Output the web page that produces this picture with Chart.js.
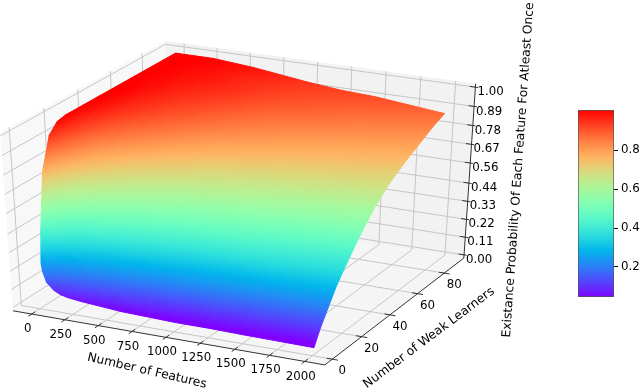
<!DOCTYPE html>
<html>
<head>
<meta charset="utf-8">
<script src="https://cdn.jsdelivr.net/npm/chart.js@4"></script>
<style>
    body { margin: 0; background: #fff; }
    canvas { position: absolute; }
</style>
</head>
<body>
<canvas id="surfaceChart" width="640" height="389" style="left:0;top:0"></canvas>
<canvas id="colorbarChart" width="80" height="210" style="left:560px;top:100px"></canvas>
<script>
// values
const featureCounts = [16, 25, 50, 100, 150, 200, 300, 450, 600, 800, 1000, 1250, 1500, 2000];
const learnerCounts = [1, 2, 5, 10, 15, 20, 30, 40, 50, 60, 70, 80, 88];
// one row per feature count, one column per learner count
const probRows = [
    [0.25, 0.44, 0.76, 0.94, 0.99, 1.00, 1.00, 1.00, 1.00, 1.00, 1.00, 1.00, 1.00],
    [0.20, 0.36, 0.67, 0.89, 0.96, 0.99, 1.00, 1.00, 1.00, 1.00, 1.00, 1.00, 1.00],
    [0.14, 0.26, 0.53, 0.78, 0.90, 0.95, 0.99, 1.00, 1.00, 1.00, 1.00, 1.00, 1.00],
    [0.10, 0.19, 0.41, 0.65, 0.79, 0.88, 0.96, 0.99, 1.00, 1.00, 1.00, 1.00, 1.00],
    [0.08, 0.16, 0.35, 0.57, 0.72, 0.82, 0.92, 0.97, 0.99, 0.99, 1.00, 1.00, 1.00],
    [0.07, 0.14, 0.31, 0.52, 0.67, 0.77, 0.89, 0.95, 0.97, 0.99, 0.99, 1.00, 1.00],
    [0.06, 0.11, 0.26, 0.45, 0.59, 0.70, 0.83, 0.91, 0.95, 0.97, 0.98, 0.99, 1.00],
    [0.05, 0.09, 0.21, 0.38, 0.52, 0.62, 0.77, 0.86, 0.91, 0.94, 0.97, 0.98, 0.99],
    [0.04, 0.08, 0.19, 0.34, 0.46, 0.57, 0.71, 0.81, 0.88, 0.92, 0.95, 0.96, 0.98],
    [0.035, 0.07, 0.16, 0.30, 0.42, 0.51, 0.66, 0.76, 0.83, 0.88, 0.92, 0.94, 0.96],
    [0.03, 0.06, 0.15, 0.27, 0.38, 0.47, 0.62, 0.72, 0.80, 0.85, 0.89, 0.92, 0.94],
    [0.03, 0.06, 0.13, 0.25, 0.35, 0.44, 0.58, 0.68, 0.76, 0.82, 0.87, 0.90, 0.92],
    [0.026, 0.05, 0.12, 0.23, 0.33, 0.41, 0.54, 0.65, 0.73, 0.79, 0.84, 0.88, 0.91],
    [0.022, 0.045, 0.11, 0.20, 0.29, 0.36, 0.49, 0.60, 0.68, 0.74, 0.79, 0.84, 0.87]
];
const featureTicks = [0, 250, 500, 750, 1000, 1250, 1500, 1750, 2000];
const learnerTicks = [0, 20, 40, 60, 80];
const probTicks = ['0.00', '0.11', '0.22', '0.33', '0.44', '0.56', '0.67', '0.78', '0.89', '1.00'];
const colorbarTicks = [0.2, 0.4, 0.6, 0.8];

const fontName = '"DejaVu Sans"';
const fMin = -142, fMax = 2142, lMin = -5, lMax = 95, zMin = -0.02, zMax = 1.02;
const vMin = 0.04, vMax = 1;

// camera, same idea as mplot3d (elev, azim, dist) then fit to the figure
const elev = 32 * Math.PI / 180, azim = -64 * Math.PI / 180, dist = 10;
const right = [-Math.sin(azim), Math.cos(azim), 0];
const up = [-Math.sin(elev) * Math.cos(azim), -Math.sin(elev) * Math.sin(azim), Math.cos(elev)];
const view = [Math.cos(elev) * Math.cos(azim), Math.cos(elev) * Math.sin(azim), Math.sin(elev)];
const dot = (a, b) => a[0] * b[0] + a[1] * b[1] + a[2] * b[2];

function toBox(f, l, z) {
    return [(f - fMin) / (fMax - fMin) - 0.5, (l - lMin) / (lMax - lMin) - 0.5, (z - zMin) / (zMax - zMin) - 0.5];
}
function project(f, l, z) {
    const p = toBox(f, l, z);
    const k = dist / (dist - dot(p, view));
    return { x: 242.7 + 346 * k * dot(p, right), y: 198 - 208 * k * dot(p, up) };
}
function depth(f, l, z) {
    return dot(toBox(f, l, z), view);
}

// matplotlib "rainbow"
function rainbow(v) {
    const t = Math.min(1, Math.max(0, (v - vMin) / (vMax - vMin)));
    const r = Math.min(1, Math.abs(2 * t - 0.5)), g = Math.sin(Math.PI * t), b = Math.cos(Math.PI * t / 2);
    return 'rgb(' + Math.round(r * 255) + ',' + Math.round(g * 255) + ',' + Math.round(b * 255) + ')';
}

const ctx = document.getElementById('surfaceChart').getContext('2d');

// colour of a cell runs along the steepest direction of z on screen
function cellPaint(pts, zs) {
    const lo = Math.min(...zs), hi = Math.max(...zs);
    const ax = pts[2].x - pts[0].x, ay = pts[2].y - pts[0].y, az = zs[2] - zs[0];
    const bx = pts[3].x - pts[1].x, by = pts[3].y - pts[1].y, bz = zs[3] - zs[1];
    const det = ax * by - ay * bx;
    if (hi - lo < 0.001 || Math.abs(det) < 0.01) return rainbow((lo + hi) / 2);
    const gx = (az * by - bz * ay) / det, gy = (bz * ax - az * bx) / det;
    const len = gx * gx + gy * gy;
    const cx = (pts[0].x + pts[1].x + pts[2].x + pts[3].x) / 4, cy = (pts[0].y + pts[1].y + pts[2].y + pts[3].y) / 4;
    const cz = (zs[0] + zs[1] + zs[2] + zs[3]) / 4;
    const grad = ctx.createLinearGradient(
        cx + gx * (lo - cz) / len, cy + gy * (lo - cz) / len,
        cx + gx * (hi - cz) / len, cy + gy * (hi - cz) / len);
    for (let i = 0; i <= 6; i++) grad.addColorStop(i / 6, rainbow(lo + (hi - lo) * i / 6));
    return grad;
}

function pane(corners, color) {
    const pts = corners.map(c => project(c[0], c[1], c[2]));
    pts.push(pts[0]);
    return { data: pts, showLine: true, fill: 'shape', backgroundColor: color, borderColor: color, borderWidth: 0, pointRadius: 0 };
}
function line(corners, color, width) {
    return { data: corners.map(c => project(c[0], c[1], c[2])), showLine: true, fill: false, borderColor: color, borderWidth: width, pointRadius: 0 };
}

const drawList = [];
drawList.push(pane([[fMin, lMin, zMin], [fMin, lMax, zMin], [fMin, lMax, zMax], [fMin, lMin, zMax]], '#f8f8f8'));
drawList.push(pane([[fMin, lMax, zMin], [fMax, lMax, zMin], [fMax, lMax, zMax], [fMin, lMax, zMax]], '#f2f2f2'));
drawList.push(pane([[fMin, lMin, zMin], [fMax, lMin, zMin], [fMax, lMax, zMin], [fMin, lMax, zMin]], '#f5f5f5'));

const gridColor = '#c6c6c6', axisColor = '#333333';
featureTicks.forEach(f => {
    drawList.push(line([[f, lMin, zMin], [f, lMax, zMin], [f, lMax, zMax]], gridColor, 1));
    drawList.push(line([[f, lMin + 2, zMin], [f, lMin - 2, zMin]], axisColor, 1));
});
learnerTicks.forEach(l => {
    drawList.push(line([[fMax, l, zMin], [fMin, l, zMin], [fMin, l, zMax]], gridColor, 1));
    drawList.push(line([[fMax - 40, l, zMin], [fMax + 40, l, zMin]], axisColor, 1));
});
probTicks.forEach(label => {
    const z = Number(label);
    drawList.push(line([[fMin, lMin, z], [fMin, lMax, z], [fMax, lMax, z]], gridColor, 1));
    drawList.push(line([[fMax - 40, lMax, z], [fMax + 20, lMax, z]], axisColor, 1));
});
drawList.push(line([[fMin, lMin, zMin], [fMax, lMin, zMin], [fMax, lMax, zMin], [fMax, lMax, zMax]], axisColor, 1));

// surface cells, far ones first
const cells = [];
for (let i = 0; i < featureCounts.length - 1; i++) {
    for (let j = 0; j < learnerCounts.length - 1; j++) {
        const f0 = featureCounts[i], f1 = featureCounts[i + 1], l0 = learnerCounts[j], l1 = learnerCounts[j + 1];
        const zs = [probRows[i][j], probRows[i + 1][j], probRows[i + 1][j + 1], probRows[i][j + 1]];
        const corners = [[f0, l0], [f1, l0], [f1, l1], [f0, l1]];
        const meanZ = (zs[0] + zs[1] + zs[2] + zs[3]) / 4;
        cells.push({ corners, zs, d: depth((f0 + f1) / 2, (l0 + l1) / 2, meanZ) });
    }
}
cells.sort((a, b) => a.d - b.d);
cells.forEach(c => {
    const pts = c.corners.map((k, n) => project(k[0], k[1], c.zs[n]));
    const paint = cellPaint(pts, c.zs);
    pts.push(pts[0]);
    drawList.push({ data: pts, showLine: true, fill: 'shape', backgroundColor: paint, borderColor: paint, borderWidth: 1, pointRadius: 0 });
});

const axisText = {
    id: 'axisText',
    afterDraw(chart) {
        const c = chart.ctx;
        c.save();
        c.fillStyle = '#000';
        c.font = '11.8px ' + fontName;
        c.textAlign = 'center';
        c.textBaseline = 'middle';
        featureTicks.forEach(f => {
            const p = project(f, lMin, zMin);
            c.fillText(String(f), p.x - 4, p.y + 15);
        });
        learnerTicks.forEach(l => {
            const p = project(fMax, l, zMin);
            c.fillText(String(l), p.x + 10, p.y + 12);
        });
        c.textAlign = 'left';
        probTicks.forEach(label => {
            const p = project(fMax, lMax, Number(label));
            c.fillText(label, p.x + 2, p.y + 5);
        });
        c.textAlign = 'center';
        c.font = '12.3px ' + fontName;
        const titles = [
            ['Number of Features', 147, 371, 13],
            ['Number of Weak Learners', 429, 338, -36.7],
            ['Existance Probability Of Each Feature For Atleast Once', 518.5, 170, -86]
        ];
        titles.forEach(t => {
            c.save();
            c.translate(t[1], t[2]);
            c.rotate(t[3] * Math.PI / 180);
            c.fillText(t[0], 0, 0);
            c.restore();
        });
        c.restore();
    }
};

new Chart(ctx, {
    type: 'scatter',
    data: { datasets: drawList.reverse() },
    plugins: [axisText],
    options: {
        responsive: false,
        animation: false,
        events: [],
        layout: { padding: 0 },
        plugins: { legend: { display: false }, tooltip: { enabled: false } },
        scales: {
            x: { type: 'linear', display: false, min: 0, max: 640 },
            y: { type: 'linear', display: false, min: 0, max: 389, reverse: true }
        }
    }
});

// colorbar
const barCtx = document.getElementById('colorbarChart').getContext('2d');
const barMin = 0.046, barMax = 1.005;
const barGrad = barCtx.createLinearGradient(0, 197, 0, 10);
for (let i = 0; i <= 12; i++) barGrad.addColorStop(i / 12, rainbow(barMin + (vMax - barMin) * i / 12));

new Chart(barCtx, {
    type: 'bar',
    data: {
        labels: [''],
        datasets: [{
            data: [[barMin, barMax]],
            backgroundColor: barGrad,
            borderColor: '#555555',
            borderWidth: 1,
            borderSkipped: false,
            barPercentage: 1,
            categoryPercentage: 1
        }]
    },
    options: {
        responsive: false,
        animation: false,
        events: [],
        layout: { padding: { left: 18, top: 10, bottom: 13, right: 0 } },
        plugins: { legend: { display: false }, tooltip: { enabled: false } },
        scales: {
            x: { display: false },
            y: {
                position: 'right',
                min: barMin,
                max: barMax,
                border: { display: false },
                grid: { drawOnChartArea: false, tickLength: 4, tickColor: '#000' },
                afterBuildTicks: axis => { axis.ticks = colorbarTicks.map(v => ({ value: v })); },
                afterFit: axis => { axis.width = 26; },
                ticks: {
                    color: '#000',
                    padding: 3,
                    font: { family: 'DejaVu Sans', size: 11.8 },
                    callback: v => v.toFixed(1)
                }
            }
        }
    }
});
</script>
</body>
</html>
